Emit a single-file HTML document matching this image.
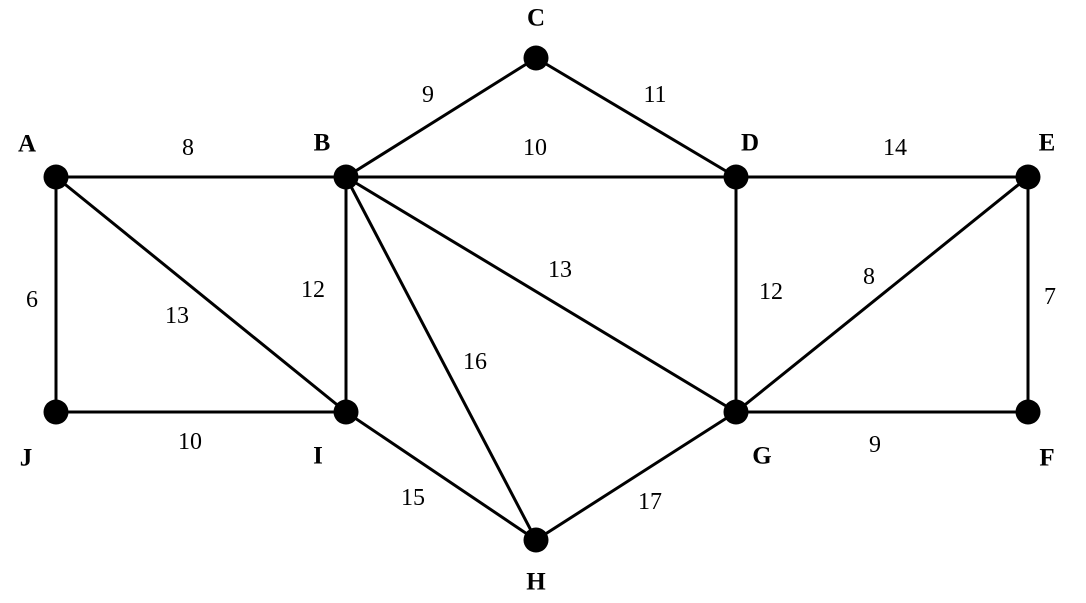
<!DOCTYPE html>
<html><head><style>html,body{margin:0;padding:0;background:#fff;}</style></head>
<body>
<svg width="1086" height="598" viewBox="0 0 1086 598" xmlns="http://www.w3.org/2000/svg">
<g stroke="#000" stroke-width="3" fill="none">
<line x1="56" y1="177" x2="1028" y2="177"/>
<line x1="56" y1="177" x2="56" y2="412"/>
<line x1="56" y1="412" x2="346" y2="412"/>
<line x1="56" y1="177" x2="346" y2="412"/>
<line x1="346" y1="177" x2="346" y2="412"/>
<line x1="346" y1="177" x2="536" y2="58"/>
<line x1="536" y1="58" x2="736" y2="177"/>
<line x1="346" y1="177" x2="536" y2="540"/>
<line x1="346" y1="177" x2="736" y2="412"/>
<line x1="346" y1="412" x2="536" y2="540"/>
<line x1="536" y1="540" x2="736" y2="412"/>
<line x1="736" y1="177" x2="736" y2="412"/>
<line x1="736" y1="412" x2="1028" y2="177"/>
<line x1="736" y1="412" x2="1028" y2="412"/>
<line x1="1028" y1="177" x2="1028" y2="412"/>
</g>
<g fill="#000">
<circle cx="56" cy="177" r="12.5"/><circle cx="346" cy="177" r="12.5"/><circle cx="536" cy="58" r="12.5"/>
<circle cx="736" cy="177" r="12.5"/><circle cx="1028" cy="177" r="12.5"/><circle cx="56" cy="412" r="12.5"/>
<circle cx="346" cy="412" r="12.5"/><circle cx="736" cy="412" r="12.5"/><circle cx="1028" cy="412" r="12.5"/>
<circle cx="536" cy="540" r="12.5"/>
</g>
<g font-family="Liberation Serif, serif" font-weight="bold" font-size="25" text-anchor="middle" dominant-baseline="central">
<text x="27" y="144">A</text><text x="322" y="143">B</text><text x="536" y="18">C</text>
<text x="750" y="143">D</text><text x="1047" y="143">E</text><text x="26" y="458">J</text>
<text x="318" y="456">I</text><text x="762" y="456">G</text><text x="1047" y="458">F</text>
<text x="536" y="582">H</text>
</g>
<g font-family="Liberation Serif, serif" font-size="24" text-anchor="middle" dominant-baseline="central">
<text x="188" y="148">8</text><text x="428" y="95">9</text><text x="655" y="95">11</text>
<text x="535" y="148">10</text><text x="895" y="148">14</text><text x="32" y="300">6</text>
<text x="177" y="316">13</text><text x="313" y="290">12</text><text x="560" y="270">13</text>
<text x="475" y="362">16</text><text x="771" y="292">12</text><text x="869" y="277">8</text>
<text x="1050" y="297">7</text><text x="190" y="442">10</text><text x="413" y="498">15</text>
<text x="650" y="502">17</text><text x="875" y="445">9</text>
</g>
</svg>
</body></html>
